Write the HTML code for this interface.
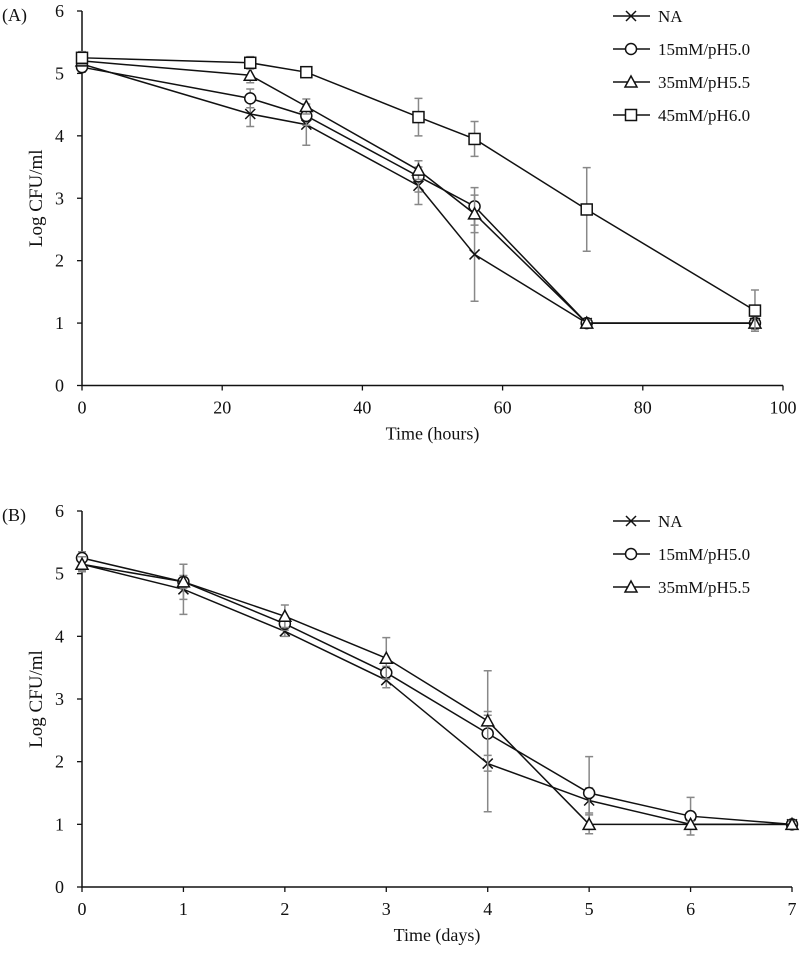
<!DOCTYPE html>
<html><head><meta charset="utf-8"><style>
body{margin:0;background:#fff;}
svg text{font-family:"Liberation Serif",serif;fill:#111;}
</style></head><body>
<svg id="c" width="800" height="956" xmlns="http://www.w3.org/2000/svg"></svg>
<script>
const hoursA=[0,24,32,48,56,72,96];
const seriesNamesA=["NA","15mM/pH5.0","35mM/pH5.5","45mM/pH6.0"];
const naA=[5.15,4.35,4.18,3.2,2.1,1.0,1.0];
const m15A=[5.1,4.6,4.32,3.35,2.87,1.0,1.0];
const m35A=[5.2,4.97,4.47,3.45,2.75,1.0,1.0];
const m45A=[5.25,5.17,5.02,4.3,3.95,2.82,1.2];
const naAErr=[0.1,0.2,0.33,0.3,0.75,0.05,0.1];
const m15AErr=[0.08,0.15,0.15,0.25,0.3,0.05,0.05];
const m35AErr=[0.08,0.12,0.12,0.15,0.3,0.05,0.05];
const m45AErr=[0.1,0.1,0.05,0.3,0.28,0.67,0.33];
const xTicksA=[0,20,40,60,80,100];
const yTicks=[0,1,2,3,4,5,6];
const daysB=[0,1,2,3,4,5,6,7];
const seriesNamesB=["NA","15mM/pH5.0","35mM/pH5.5"];
const naB=[5.15,4.75,4.08,3.3,1.97,1.38,1.0,1.0];
const m15B=[5.25,4.87,4.2,3.42,2.45,1.5,1.13,1.0];
const m35B=[5.15,4.87,4.32,3.65,2.65,1.0,1.0,1.0];
const naBErr=[0.1,0.4,0.08,0.12,0.77,0.2,0.05,0.05];
const m15BErr=[0.1,0.28,0.1,0.1,0.35,0.58,0.3,0.05];
const m35BErr=[0.12,0.1,0.18,0.33,0.8,0.15,0.05,0.05];
const xTicksB=[0,1,2,3,4,5,6,7];

const svg=document.getElementById('c');
const NS="http://www.w3.org/2000/svg";
function el(t,a,p){const e=document.createElementNS(NS,t);for(const k in a)e.setAttribute(k,a[k]);(p||svg).appendChild(e);return e;}
function marker(kind,x,y,g){
  if(kind==='x'){const m=el('path',{d:`M${x-5},${y-5}L${x+5},${y+5}M${x-5},${y+5}L${x+5},${y-5}`,stroke:'#111','stroke-width':1.5,fill:'none'},g);}
  else if(kind==='o'){const m=el('circle',{cx:x,cy:y,r:5.5,stroke:'#111','stroke-width':1.5,fill:'#fff'},g);}
  else if(kind==='t'){const m=el('path',{d:`M${x},${y-6}L${x+6},${y+5}L${x-6},${y+5}Z`,stroke:'#111','stroke-width':1.5,fill:'#fff'},g);}
  else {const m=el('rect',{x:x-5.5,y:y-5.5,width:11,height:11,stroke:'#111','stroke-width':1.5,fill:'#fff'},g);}
}
function panel(o){
  const X=v=>o.x0+(v-o.xmin)/(o.xmax-o.xmin)*(o.x1-o.x0);
  const Y=v=>o.y0-(v/6)*(o.y0-o.y1);
  const g=el('g',{});
  const ax=el('path',{d:`M${o.x0},${o.y1}V${o.y0}H${o.x1}`,stroke:'#111','stroke-width':1.5,fill:'none'},g);
  
  yTicks.forEach(t=>{el('line',{x1:o.x0-5,x2:o.x0,y1:Y(t),y2:Y(t),stroke:'#111','stroke-width':1.3},g);
    const tx=el('text',{x:o.x0-18,y:Y(t)+6,'font-size':18,'text-anchor':'end'},g);tx.textContent=t;
    });
  o.xt.forEach(t=>{el('line',{x1:X(t),x2:X(t),y1:o.y0,y2:o.y0+5,stroke:'#111','stroke-width':1.3},g);
    const tx=el('text',{x:X(t),y:o.y0+28,'font-size':18,'text-anchor':'middle'},g);tx.textContent=t;
    });
  const xt=el('text',{x:(o.x0+o.x1)/2,y:o.y0+54,'font-size':18,'text-anchor':'middle'},g);xt.textContent=o.xtitle;
  
  const yc=(o.y0+o.y1)/2;
  const yt=el('text',{x:42,y:yc,'font-size':19,'text-anchor':'middle',transform:`rotate(-90 42 ${yc})`},g);yt.textContent='Log CFU/ml';
  
  const pl=el('text',{x:2,y:o.y1+10,'font-size':18},g);pl.textContent=o.label;
  
  o.series.forEach((s,i)=>{
    const sg=el('g',{},g);
    s.v.forEach((v,j)=>{const e=s.e[j],x=X(o.xs[j]);
      el('path',{d:`M${x},${Y(v-e)}V${Y(v+e)}M${x-4},${Y(v-e)}H${x+4}M${x-4},${Y(v+e)}H${x+4}`,stroke:'#888','stroke-width':1.5,fill:'none'},sg);});
    el('polyline',{points:s.v.map((v,j)=>X(o.xs[j])+','+Y(v)).join(' '),stroke:'#111','stroke-width':1.5,fill:'none'},sg);
    s.v.forEach((v,j)=>marker(s.m,X(o.xs[j]),Y(v),sg));
    const ly=o.ly+i*33;
    const lg=el('g',{},g);
    el('line',{x1:613,x2:650,y1:ly,y2:ly,stroke:'#111','stroke-width':1.5},lg);
    marker(s.m,631,ly,lg);
    const t=el('text',{x:658,y:ly+6,'font-size':17},lg);t.textContent=s.name;
  });
}
panel({name:'panel-a',label:'(A)',x0:82,x1:783,y0:385.5,y1:11,xmin:0,xmax:100,xt:xTicksA,xs:hoursA,xtitle:'Time (hours)',ly:16,
 series:[{name:seriesNamesA[0],v:naA,e:naAErr,m:'x'},{name:seriesNamesA[1],v:m15A,e:m15AErr,m:'o'},{name:seriesNamesA[2],v:m35A,e:m35AErr,m:'t'},{name:seriesNamesA[3],v:m45A,e:m45AErr,m:'s'}]});
panel({name:'panel-b',label:'(B)',x0:82,x1:792,y0:887,y1:511,xmin:0,xmax:7,xt:xTicksB,xs:daysB,xtitle:'Time (days)',ly:521,
 series:[{name:seriesNamesB[0],v:naB,e:naBErr,m:'x'},{name:seriesNamesB[1],v:m15B,e:m15BErr,m:'o'},{name:seriesNamesB[2],v:m35B,e:m35BErr,m:'t'}]});
</script>
</body></html>
